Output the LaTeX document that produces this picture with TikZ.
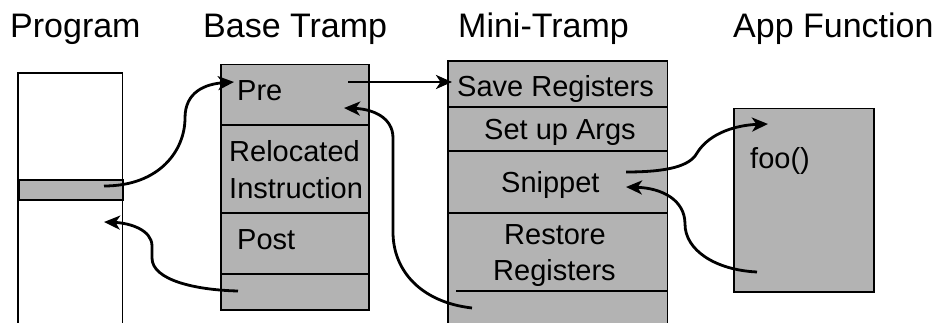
\documentclass[tikz,border=0pt]{standalone}
\usepackage{fontspec}
\setmainfont{Liberation Sans}
\usetikzlibrary{arrows.meta}
\definecolor{boxgray}{RGB}{179,179,179}
\begin{document}
\begin{tikzpicture}[x=1pt,y=-1pt,
  title/.style={anchor=base west, inner sep=0pt, font=\fontsize{34}{40}\selectfont},
  lbl/.style={anchor=base west, inner sep=0pt, font=\fontsize{29}{34}\selectfont},
  box/.style={draw=black, fill=boxgray, line width=1.5pt, inner sep=0pt, anchor=north west},
  openbox/.style={fill=boxgray, inner sep=0pt, anchor=north west},
  side/.style={line width=1.5pt},
  flow/.style={line width=2.8pt, -{Stealth[length=16pt,width=14pt,inset=4.5pt]}},
]
\useasboundingbox (0,0) rectangle (941,323);

% titles
\node[title] (tprog) at (10,38) {Program};
\node[title] (tbase) at (203,38) {Base Tramp};
\node[title] (tmini) at (458,38) {Mini-Tramp};
\node[title] (tapp) at (733,38) {App Function};

% Program
\node[openbox, fill=white, minimum width=104pt, minimum height=250pt] (prog) at (18,73) {};
\draw[side] (prog.south west) -- (prog.north west) -- (prog.north east) -- (prog.south east);
\node[box, minimum width=104pt, minimum height=20pt] (pinst) at (18,179) {};

% Base Tramp
\node[box, minimum width=148pt, minimum height=245pt] (bt) at (220,64) {};
\draw[side] (220,125) -- (368,125);
\draw[side] (220,213) -- (368,213);
\draw[side] (220,274) -- (368,274);
\node[lbl] (pre) at (237,101) {Pre};
\node[lbl] (reloc) at (229,162) {Relocated};
\node[lbl] (instr) at (229,198) {Instruction};
\node[lbl] (post) at (237,249) {Post};

% Mini-Tramp
\node[openbox, minimum width=219pt, minimum height=262pt] (mt) at (448,61) {};
\draw[side] (mt.south west) -- (mt.north west) -- (mt.north east) -- (mt.south east);
\draw[side] (448,107) -- (667,107);
\draw[side] (448,151) -- (667,151);
\draw[side] (448,213) -- (667,213);
\draw[side] (456,291) -- (667,291);
\node[lbl] (save) at (457,97) {Save Registers};
\node[lbl] (args) at (484,140) {Set up Args};
\node[lbl] (snip) at (501,193) {Snippet};
\node[lbl] (rest1) at (504,244) {Restore};
\node[lbl] (rest2) at (493,280) {Registers};

% App Function
\node[box, minimum width=140pt, minimum height=183pt] (app) at (733,108) {};
\node[lbl] (foo) at (750,168) {foo()};

% connector end points
\coordinate (c1s) at (104,186);
\coordinate (c1e) at (234,82);
\coordinate (c2s) at (238,291);
\coordinate (c2e) at (104,222);
\coordinate (c3s) at (348,82);
\coordinate (c3e) at (452,82);
\coordinate (c4s) at (472,308);
\coordinate (c4e) at (344,108);
\coordinate (c5s) at (626,172);
\coordinate (c5e) at (768,124);
\coordinate (c6s) at (757,272);
\coordinate (c6e) at (626,187);

% connectors
\draw[flow] (c1s) .. controls (160,186) and (185,150) .. (185,118)
  .. controls (185,92) and (205,84) .. (c1e);
\draw[flow] (c2s) .. controls (195,290) and (152,280) .. (152,258)
  -- (152,246) .. controls (152,230) and (130,223) .. (c2e);
\draw[flow] (c3s) -- (c3e);
\draw[flow] (c4s) .. controls (420,302) and (393,270) .. (393,232)
  -- (393,138) .. controls (393,117) and (372,109) .. (c4e);
\draw[flow] (c5s) .. controls (668,172) and (690,166) .. (697,153)
  .. controls (710,132) and (738,125) .. (c5e);
\draw[flow] (c6s) .. controls (715,270) and (685,250) .. (685,224)
  .. controls (685,200) and (662,188) .. (c6e);
\end{tikzpicture}
\end{document}
